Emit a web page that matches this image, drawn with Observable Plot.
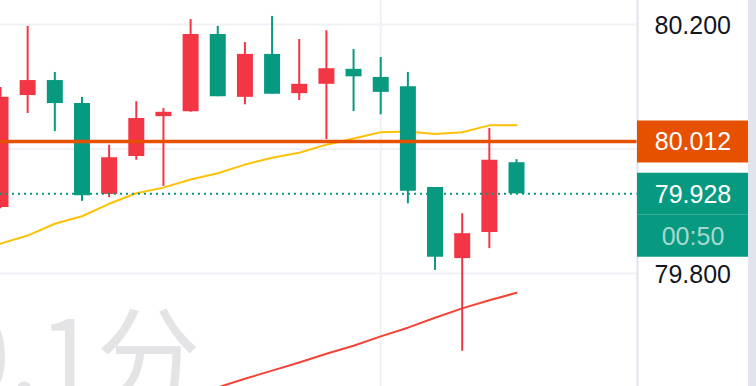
<!DOCTYPE html>
<html>
<head>
<meta charset="utf-8">
<script src="https://cdn.jsdelivr.net/npm/d3@7"></script>
<script src="https://cdn.jsdelivr.net/npm/@observablehq/plot@0.6"></script>
<style>
  html, body { margin: 0; padding: 0; background: #fff; }
  #chart svg { display: block; }
</style>
</head>
<body>
<div id="chart"></div>
<script>
// ---- data ----
const candleIndex = d3.range(20);
const open  = [79.906, 80.086, 80.110, 80.073, 79.927, 79.988, 80.052, 80.060, 80.184, 80.083, 80.152, 80.089, 80.104, 80.128, 80.115, 80.100, 79.938, 79.824, 79.866, 79.978];
const close = [80.083, 80.110, 80.073, 79.925, 79.986, 80.049, 80.059, 80.184, 80.084, 80.152, 80.088, 80.104, 80.129, 80.116, 80.091, 79.932, 79.826, 79.864, 79.982, 79.928];
const high  = [80.099, 80.197, 80.123, 80.083, 80.006, 80.076, 80.065, 80.208, 80.197, 80.171, 80.213, 80.176, 80.190, 80.160, 80.147, 80.123, 79.938, 79.896, 80.033, 79.983];
const low   = [79.904, 80.057, 80.028, 79.916, 79.922, 79.982, 79.940, 80.059, 80.084, 80.071, 80.088, 80.078, 80.015, 80.060, 80.055, 79.912, 79.805, 79.675, 79.840, 79.927];
const maFast = [79.848, 79.861, 79.880, 79.892, 79.912, 79.929, 79.938, 79.951, 79.961, 79.975, 79.986, 79.994, 80.007, 80.017, 80.027, 80.028, 80.024, 80.027, 80.038, 80.038];
const maSlow = [null, null, null, null, null, null, null, null, 79.617, 79.631, 79.644, 79.657, 79.671, 79.684, 79.699, 79.713, 79.729, 79.744, 79.757, 79.769];
const gridPrices = [80.2, 80.0, 79.8];
const axisLabels = [80.2, 79.8];
const timeGrid = [14];
const markPrice = 80.012;
const lastPrice = 79.928;
const countdown = "00:50";
const watermark = "0.1分";

// ---- build ----
const candles = candleIndex.map(i => ({i, o: open[i], c: close[i], h: high[i], l: low[i]}));
const maFastData = candleIndex.map(i => ({i, v: maFast[i]}));
const maSlowData = candleIndex.map(i => ({i, v: maSlow[i]}));

const UP = "#f23645", DOWN = "#089981", ORANGE = "#e65100";
const W = 756, H = 386, frameW = 637;
const xMax = 23.455;
const unitPx = frameW / xMax;
const boxW = 111 / unitPx;
const col = d => d.c >= d.o ? UP : DOWN;

const plot = Plot.plot({
  width: W,
  height: H,
  marginLeft: 0, marginTop: 0, marginBottom: 0, marginRight: W - frameW,
  style: {
    overflow: "hidden",
    background: "linear-gradient(to right, #ffffff 748px, #e1e4ec 748px)",
    color: "#131722",
    fontFamily: "'Liberation Sans', Arial, sans-serif"
  },
  x: {type: "linear", domain: [0, xMax], axis: null},
  y: {domain: [79.6185, 80.2386], axis: null},
  marks: [
    Plot.text([watermark], {frameAnchor: "bottom-left", dx: 200, dy: 8, textAnchor: "end", lineAnchor: "bottom", fontSize: 104, fill: "#e4e4e7", fontFamily: "'Noto Sans CJK SC', sans-serif"}),
    Plot.gridY(gridPrices, {stroke: "#f0f1f6", strokeOpacity: 1, strokeWidth: 2}),
    Plot.gridX(timeGrid, {stroke: "#f0f1f6", strokeOpacity: 1, strokeWidth: 2}),
    Plot.line(maFastData, {x: "i", y: "v", stroke: "#ffc107", strokeWidth: 2, clip: true}),
    Plot.line(maSlowData, {x: "i", y: "v", stroke: "#f44336", strokeWidth: 2, clip: true}),
    Plot.ruleX(candles, {x: "i", y1: "l", y2: "h", stroke: col, strokeWidth: 2}),
    Plot.ruleX(candles, {x: "i", y1: "o", y2: "c", stroke: col, strokeWidth: 16}),
    Plot.ruleY([lastPrice], {x1: 0, x2: xMax, stroke: DOWN, strokeWidth: 2, strokeDasharray: "2 4"}),
    Plot.ruleY([markPrice], {x1: 0, x2: xMax, stroke: ORANGE, strokeWidth: 3.5}),
    Plot.ruleX([xMax], {stroke: "#e0e3eb", strokeWidth: 2}),
    Plot.axisY(axisLabels, {anchor: "right", tickSize: 0, tickPadding: 17, fontSize: 25, tickFormat: d3.format(".3f"), dy: 1, fill: "#131722"}),
    Plot.ruleY([markPrice], {x1: xMax, x2: xMax + boxW, stroke: ORANGE, strokeWidth: 42}),
    Plot.ruleY([lastPrice], {x1: xMax, x2: xMax + boxW, stroke: DOWN, strokeWidth: 42}),
    Plot.ruleY([lastPrice], {x1: xMax, x2: xMax + boxW, stroke: DOWN, strokeWidth: 42, dy: 42}),
    Plot.text([markPrice], {x: xMax, y: d => d, dx: 55.5, text: d3.format(".3f"), fill: "#ffffff", fontSize: 25, textAnchor: "middle"}),
    Plot.text([lastPrice], {x: xMax, y: d => d, dx: 55.5, dy: 1, text: d3.format(".3f"), fill: "#ffffff", fontSize: 25, textAnchor: "middle"}),
    Plot.text([lastPrice], {x: xMax, y: d => d, dx: 55.5, dy: 43, text: () => countdown, fill: "#ffffff", fillOpacity: 0.65, fontSize: 25, textAnchor: "middle"})
  ]
});
document.getElementById("chart").appendChild(plot);
</script>
</body>
</html>
